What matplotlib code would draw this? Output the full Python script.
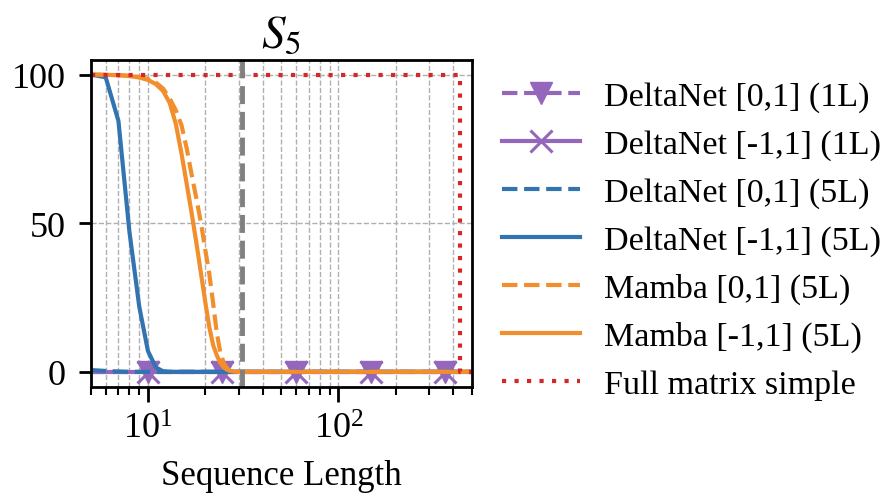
import matplotlib
matplotlib.use('Agg')
import matplotlib.pyplot as plt
from matplotlib.ticker import LogLocator, NullFormatter

plt.rcParams['font.family'] = 'serif'
plt.rcParams['font.serif'] = ['Liberation Serif', 'DejaVu Serif']
plt.rcParams['mathtext.fontset'] = 'stix'

# sequence lengths used by the 5L runs
seq_len = list(range(5, 31)) + [50, 100, 200, 500]

deltanet_01_5l = [0.6, 0.3, 0.1] + [0] * 27
deltanet_11_5l = [100, 99.1, 84.4, 47, 22, 7, 1.5, 0.2] + [0] * 22
mamba_01_5l = [100, 99.9, 99.8, 99.6, 99.2, 98.5, 97.3, 95.3, 92, 88, 83, 75, 66, 58,
               50, 41, 33, 23, 13, 6.5, 3, 1.2, 0.4, 0.1, 0, 0, 0, 0, 0, 0]
mamba_11_5l = [100, 99.9, 99.8, 99.5, 99.0, 98.2, 96.8, 94.5, 90.5, 83.5, 73.5, 63, 53, 43,
               33, 23.5, 15, 9, 5.5, 3, 1.5, 0.7, 0.3, 0.1, 0, 0, 0, 0, 0, 0]

# 1L runs (all zero), markers at these lengths
deltanet_1l_len = [5, 10, 24.5, 60, 148, 365, 500]
deltanet_01_1l = [0, 0, 0, 0, 0, 0, 0]
deltanet_11_1l = [0, 0, 0, 0, 0, 0, 0]

full_len = [5, 437, 500]
full_matrix = [100, 0, 0]

train_len = 31

purple = '#9467bd'
blue = '#3274b0'
orange = '#f28e2b'
red = '#d62728'

fig = plt.figure(figsize=(8.83, 5.02), dpi=100)
ax = fig.add_axes([0.1026, 0.2277, 0.4314, 0.6514])

ax.plot(deltanet_1l_len, deltanet_01_1l, '--', color=purple, lw=3, marker='v', ms=16,
        markevery=[1, 2, 3, 4, 5], label='DeltaNet [0,1] (1L)')
ax.plot(deltanet_1l_len, deltanet_11_1l, '-', color=purple, lw=3, marker='x', ms=16, mew=2.2,
        markevery=[1, 2, 3, 4, 5], label='DeltaNet [-1,1] (1L)')
ax.plot(seq_len, deltanet_01_5l, '--', color=blue, lw=3, label='DeltaNet [0,1] (5L)')
ax.plot(seq_len, deltanet_11_5l, '-', color=blue, lw=3, label='DeltaNet [-1,1] (5L)')
ax.plot(seq_len, mamba_01_5l, '--', color=orange, lw=3, label='Mamba [0,1] (5L)')
ax.plot(seq_len, mamba_11_5l, '-', color=orange, lw=3, label='Mamba [-1,1] (5L)')
ax.plot(full_len, full_matrix, ':', color=red, lw=3, dashes=(1, 2), drawstyle='steps-post',
        label='Full matrix simple')
ax.axvline(train_len, color='gray', ls='--', lw=3.5)

ax.set_xscale('log')
ax.set_xlim(5, 500)
ax.set_ylim(-5, 105)
ax.set_yticks([0, 50, 100])
ax.xaxis.set_minor_locator(LogLocator(base=10, subs=range(2, 10)))
ax.xaxis.set_minor_formatter(NullFormatter())
ax.grid(True, which='both', axis='x', ls='--', color='#b0b0b0', lw=1)
ax.grid(True, which='major', axis='y', ls='--', color='#b0b0b0', lw=1)

ax.tick_params(axis='y', which='major', labelsize=26, length=9, width=2, pad=9)
ax.tick_params(axis='x', which='major', labelsize=26, length=11, width=2, pad=8)
ax.tick_params(axis='x', which='minor', length=6, width=1.5)
for s in ax.spines.values():
    s.set_linewidth(2)

ax.set_xlabel('Sequence Length', fontsize=25, labelpad=9)
ax.set_title('$S_5$', fontsize=34, pad=9)

ax.legend(loc='center left', bbox_to_anchor=(1.008, 0.447), frameon=False, fontsize=24.5,
          handlelength=2.3, handletextpad=0.7, borderpad=0.3, labelspacing=0.5)

fig.savefig('out.png', dpi=100)
